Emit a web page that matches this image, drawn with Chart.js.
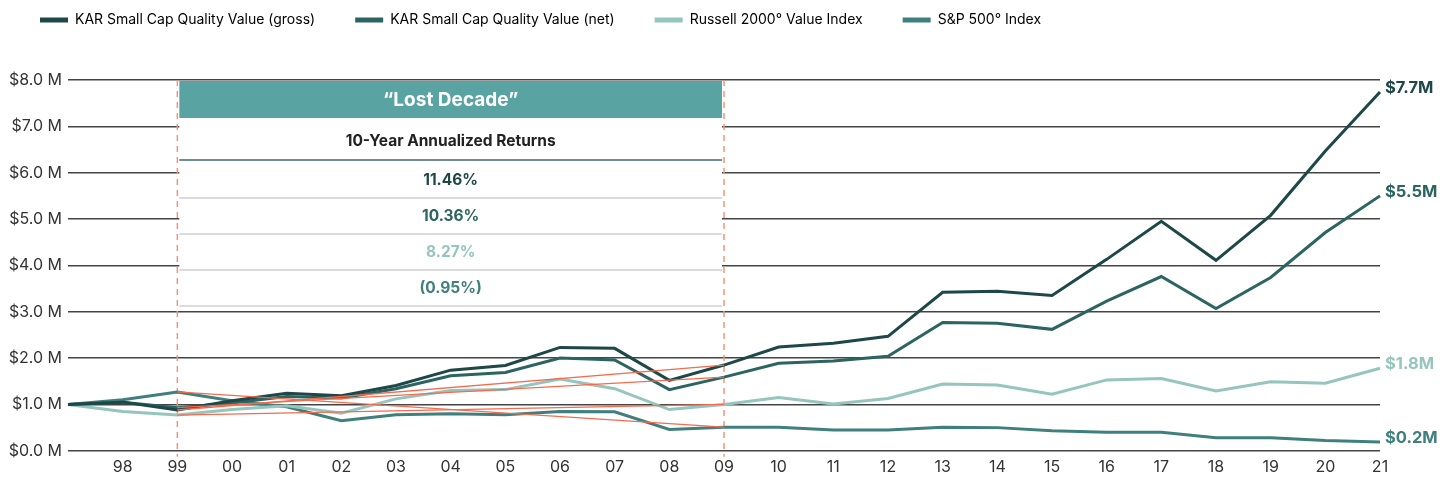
<!DOCTYPE html>
<html>
<head>
<meta charset="utf-8">
<script src="https://cdn.jsdelivr.net/npm/chart.js@4.4.1/dist/chart.umd.min.js"></script>
<style>
  html, body { margin: 0; padding: 0; background: #fff; }
  #wrap { width: 1452px; height: 485px; position: relative; }
</style>
</head>
<body>
<div id="wrap"><canvas id="c" width="1452" height="485"></canvas></div>
<script>
// ---- Data ----
const years = ['97','98','99','00','01','02','03','04','05','06','07','08','09','10','11','12','13','14','15','16','17','18','19','20','21'];
const tickLabels = ['','98','99','00','01','02','03','04','05','06','07','08','09','10','11','12','13','14','15','16','17','18','19','20','21'];
const grossValues   = [1.00,1.05,0.88,1.08,1.24,1.19,1.41,1.74,1.84,2.23,2.21,1.52,1.85,2.24,2.32,2.47,3.42,3.44,3.35,4.13,4.95,4.11,5.08,6.47,7.74];
const netValues     = [1.00,1.05,0.93,1.03,1.17,1.14,1.34,1.62,1.69,2.00,1.96,1.32,1.59,1.89,1.94,2.04,2.77,2.75,2.62,3.23,3.76,3.07,3.74,4.71,5.50];
const russellValues = [1.00,0.85,0.77,0.89,0.97,0.81,1.12,1.30,1.32,1.55,1.34,0.89,1.00,1.15,1.01,1.13,1.44,1.42,1.22,1.53,1.56,1.29,1.49,1.46,1.78];
const spValues      = [1.00,1.10,1.27,1.08,0.95,0.65,0.78,0.80,0.78,0.85,0.84,0.46,0.51,0.51,0.45,0.45,0.51,0.50,0.43,0.40,0.40,0.28,0.28,0.22,0.19];
const yTicks = [0,1,2,3,4,5,6,7,8];
const seriesNames = ['KAR Small Cap Quality Value (gross)','KAR Small Cap Quality Value (net)','Russell 2000\u00B0 Value Index','S&P 500\u00B0 Index'];
const endLabels = ['$7.7M','$5.5M','$1.8M','$0.2M'];
const decadeStart = '99', decadeEnd = '09';
const tableTitle = '\u201CLost Decade\u201D';
const tableSubtitle = '10-Year Annualized Returns';
const tableReturns = ['11.46%','10.36%','8.27%','(0.95%)'];

const colors = ['#1e4747','#2c6462','#95c5bd','#3f7f7d'];
const orange = '#f26c4f';

const i0 = years.indexOf(decadeStart), i1 = years.indexOf(decadeEnd);
function trend(vals){ return years.map((y,i)=> (i===i0||i===i1) ? vals[i] : null); }

const allSeries = [grossValues, netValues, russellValues, spValues];
const datasets = allSeries.map((vals,k)=>({
  label: seriesNames[k], data: vals, borderColor: colors[k], backgroundColor: colors[k],
  borderWidth: 3, pointRadius: 0, tension: 0, order: 2
}));
allSeries.forEach((vals,k)=>{
  datasets.push({ label: '_trend'+k, data: trend(vals), borderColor: orange, borderWidth: 1.3,
    pointRadius: 0, spanGaps: true, tension: 0, order: 1 });
});

const FONT = 'Inter, "Noto Sans", sans-serif';

const legendMargin = {
  id: 'legendMargin',
  beforeInit(chart){
    const lg = chart.legend;
    const fit = lg.fit;
    lg.fit = function(){ fit.call(lg); this.height = 74; };
    const draw = lg.draw;
    lg.draw = function(a){
      const ctx = chart.ctx; ctx.save(); ctx.translate(0, -33); draw.call(lg, a); ctx.restore();
    };
  }
};

const overlay = {
  id: 'overlay',
  beforeDatasetsDraw(chart){
    const {ctx, scales:{x,y}, chartArea:ca} = chart;
    const xa = x.getPixelForValue(i0), xb = x.getPixelForValue(i1);
    const top = y.getPixelForValue(8);
    const left = xa + 2, right = xb - 2, w = right - left, cx = (left+right)/2;
    ctx.save();
    ctx.fillStyle = '#fff';
    ctx.fillRect(left, top+1, w, 228);
    ctx.fillStyle = '#5aa3a3';
    ctx.fillRect(left, top+1, w, 37);
    ctx.fillStyle = '#fff';
    ctx.font = 'bold 19px ' + FONT;
    ctx.textAlign = 'center'; ctx.textBaseline = 'middle';
    ctx.fillText(tableTitle, cx, top + 20);
    ctx.fillStyle = '#222';
    ctx.font = 'bold 15.5px ' + FONT;
    ctx.fillText(tableSubtitle, cx, top + 61);
    ctx.fillStyle = '#6e8e8e';
    ctx.fillRect(left, top + 79, w, 2);
    const rowY = [100, 136, 172, 208];
    const sepY = [117, 153, 189, 225];
    const rowCol = ['#1e4747','#2c6462','#95c5bd','#3f7f7d'];
    tableReturns.forEach((t,k)=>{
      ctx.fillStyle = rowCol[k];
      ctx.font = 'bold 15.5px ' + FONT;
      ctx.fillText(t, cx, top + rowY[k]);
      ctx.fillStyle = '#dcdcdc';
      ctx.fillRect(left, top + sepY[k], w, 2);
    });
    ctx.strokeStyle = '#f29479';
    ctx.lineWidth = 1.5;
    ctx.setLineDash([6,5]);
    [xa, xb].forEach(px=>{
      ctx.beginPath(); ctx.moveTo(px, top); ctx.lineTo(px, ca.bottom + 6); ctx.stroke();
    });
    ctx.restore();
  },
  afterDatasetsDraw(chart){
    const {ctx, scales:{x,y}} = chart;
    const last = years.length - 1;
    ctx.save();
    ctx.font = 'bold 16.5px ' + FONT;
    ctx.textAlign = 'left'; ctx.textBaseline = 'middle';
    allSeries.forEach((vals,k)=>{
      ctx.fillStyle = colors[k];
      ctx.fillText(endLabels[k], x.getPixelForValue(last) + 5, y.getPixelForValue(vals[last]) - 4);
    });
    ctx.restore();
  }
};

new Chart(document.getElementById('c'), {
  type: 'line',
  data: { labels: years, datasets },
  options: {
    responsive: false, animation: false,
    layout: { padding: { left: 0, right: 72, top: 6, bottom: 1 } },
    plugins: {
      legend: {
        position: 'top', align: 'start',
        labels: {
          boxWidth: 28, boxHeight: 5, useBorderRadius: true, borderRadius: 2.5,
          padding: 40, color: '#333',
          font: { family: FONT, size: 14 },
          generateLabels(chart){
            return chart.data.datasets.map((ds,i)=>({
              text: ds.label, fillStyle: ds.borderColor, strokeStyle: ds.borderColor,
              lineWidth: 0, datasetIndex: i, hidden: false
            })).filter(it=>!it.text.startsWith('_'));
          }
        }
      },
      tooltip: { enabled: false }
    },
    scales: {
      x: {
        offset: false,
        grid: { display: false, drawTicks: false },
        border: { display: false },
        ticks: { autoSkip: false, maxRotation: 0, color: '#333', padding: 7,
          font: { family: FONT, size: 16 },
          callback: (v,i)=> tickLabels[i] }
      },
      y: {
        min: 0, max: 8,
        afterBuildTicks(axis){ axis.ticks = yTicks.map(v=>({value:v})); },
        afterFit(axis){ axis.width = 68; },
        grid: { color: '#444', lineWidth: 1.4, drawTicks: false },
        border: { display: false },
        ticks: { color: '#333', padding: 6, font: { family: FONT, size: 16 },
          callback: (v)=> '$' + Number(v).toFixed(1) + ' M' }
      }
    }
  },
  plugins: [legendMargin, overlay]
});
</script>
</body>
</html>
